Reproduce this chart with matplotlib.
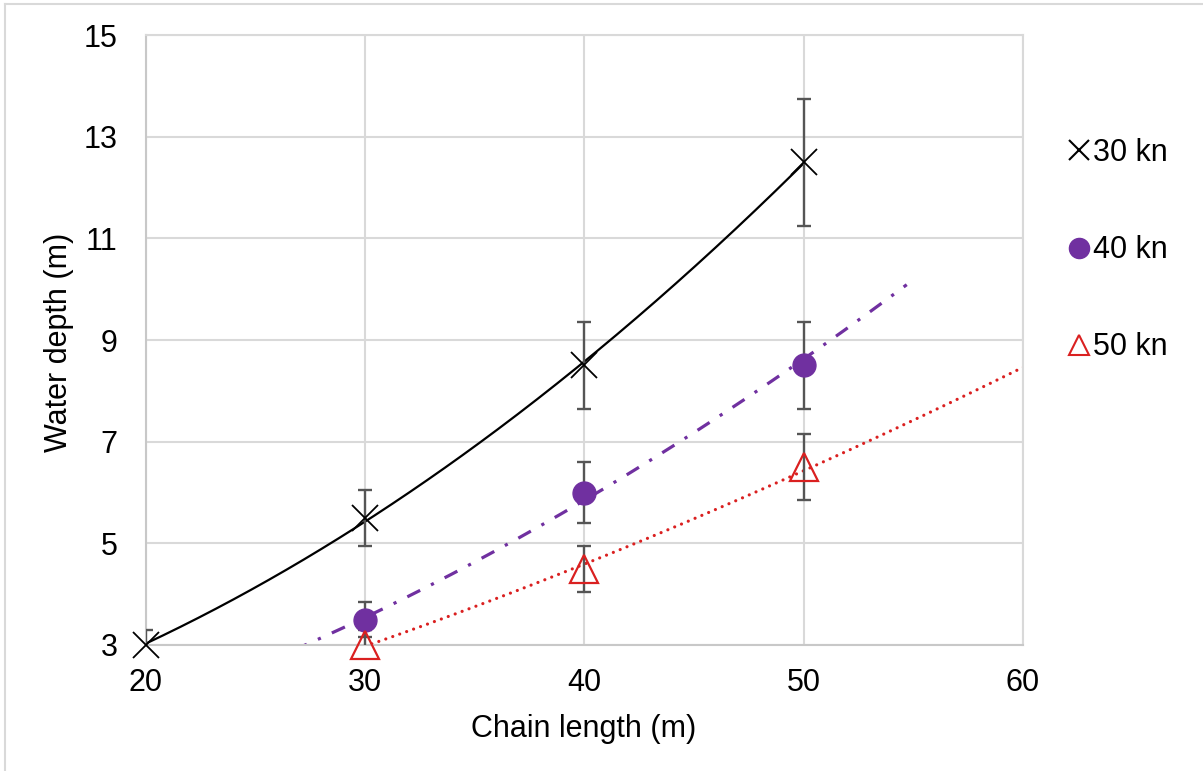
import numpy as np
import matplotlib
matplotlib.use('Agg')
import matplotlib.pyplot as plt
from matplotlib.lines import Line2D

plt.rcParams['font.family'] = ['Liberation Sans', 'DejaVu Sans']

# ---- data ----
x_30 = [20, 30, 40, 50]
y_30 = [3.0, 5.5, 8.5, 12.5]
x_40 = [30, 40, 50]
y_40 = [3.5, 6.0, 8.5]
x_50 = [30, 40, 50]
y_50 = [3.0, 4.5, 6.5]
err_frac = 0.10          # error bars: 10 % of value
x_ticks = [20, 30, 40, 50, 60]
y_ticks = [3, 5, 7, 9, 11, 13, 15]
series_labels = ['30 kn', '40 kn', '50 kn']
x_label = 'Chain length (m)'
y_label = 'Water depth (m)'

# trendline ranges (fit type, start, end)
trend_30 = ('poly2', 20, 50)
trend_40 = ('power', 25, 54.7)
trend_50 = ('power', 30, 65)

# ---- styles ----
BLACK = '#000000'
PURPLE = '#7030A0'
RED = '#DA2020'
ERR = '#555555'
GRID = '#d9d9d9'
FS = 22

W, H = 1203, 771
fig = plt.figure(figsize=(W / 100, H / 100), dpi=100)
ax = fig.add_axes([145.5 / W, 126 / H, 877.5 / W, 610 / H])


def trend(xs, ys, spec):
    kind, x0, x1 = spec
    xs = np.asarray(xs, float)
    ys = np.asarray(ys, float)
    xx = np.linspace(x0, x1, 300)
    if kind == 'poly2':
        c = np.polyfit(xs, ys, 2)
        return xx, np.polyval(c, xx)
    b, a = np.polyfit(np.log(xs), np.log(ys), 1)
    return xx, np.exp(a) * xx ** b


# trendlines
tx, ty = trend(x_30, y_30, trend_30)
ax.plot(tx, ty, color=BLACK, lw=1.6, zorder=2.5)
tx, ty = trend(x_40, y_40, trend_40)
ax.plot(tx, ty, color=PURPLE, lw=2.3, dashes=(4.5, 3.8, 1, 3.8), zorder=2.5)
tx, ty = trend(x_50, y_50, trend_50)
ax.plot(tx, ty, color=RED, lw=2.3, dashes=(0.01, 2.3), dash_capstyle='round',
        zorder=2.5)

# error bars
for xs, ys in [(x_30, y_30), (x_40, y_40), (x_50, y_50)]:
    ys = np.asarray(ys)
    ax.errorbar(xs, ys, yerr=err_frac * ys, fmt='none', ecolor=ERR,
                elinewidth=1.7, capsize=5.2, capthick=1.7, zorder=3)

# markers
ax.plot(x_30, y_30, ls='none', marker='x', ms=19, mew=1.3, color=BLACK,
        clip_on=False, zorder=4)
ax.plot(x_40, y_40, ls='none', marker='o', ms=16.5, color=PURPLE, mec=PURPLE,
        clip_on=False, zorder=4)
ax.plot(x_50, y_50, ls='none', marker='^', ms=19.5, mfc='none', mec=RED, mew=1.6,
        clip_on=False, zorder=4)

# axes
ax.set_xlim(x_ticks[0], x_ticks[-1])
ax.set_ylim(y_ticks[0], y_ticks[-1])
ax.set_xticks(x_ticks)
ax.set_yticks(y_ticks)
ax.grid(True, color=GRID, lw=1.5, zorder=0)
ax.set_axisbelow(True)
for side, sp in ax.spines.items():
    sp.set_color('#c8c8c8' if side in ('left', 'bottom') else GRID)
    sp.set_linewidth(1.5)
ax.tick_params(axis='both', length=0, labelsize=FS, colors='black')
ax.tick_params(axis='x', pad=16.5)
ax.tick_params(axis='y', pad=20)

fig.text(584 / W, 1 - 729 / H, x_label, ha='center', va='center', fontsize=FS)
fig.text(59 / W, 1 - 342 / H, y_label, ha='center', va='center', fontsize=FS,
         rotation=90)

# legend
handles = [
    Line2D([], [], ls='none', marker='x', ms=14, mew=1.5, color=BLACK),
    Line2D([], [], ls='none', marker='o', ms=14.5, color=PURPLE),
    Line2D([], [], ls='none', marker='^', ms=14.5, mfc='none', mec=RED, mew=1.5),
]
fig.legend(handles, series_labels, loc='upper left',
           bbox_to_anchor=(1068 / W, 1 - 138 / H), frameon=False, fontsize=FS,
           handlelength=0.7, handletextpad=0.12, labelspacing=2.2,
           borderpad=0, borderaxespad=0)

# figure border (left and top)
fig.add_artist(Line2D([5 / W, 5 / W], [0, 1 - 4 / H], color=GRID, lw=1.5,
                      transform=fig.transFigure))
fig.add_artist(Line2D([5 / W, 1], [1 - 4 / H, 1 - 4 / H], color=GRID, lw=1.5,
                      transform=fig.transFigure))

fig.savefig('out.png', dpi=100)
